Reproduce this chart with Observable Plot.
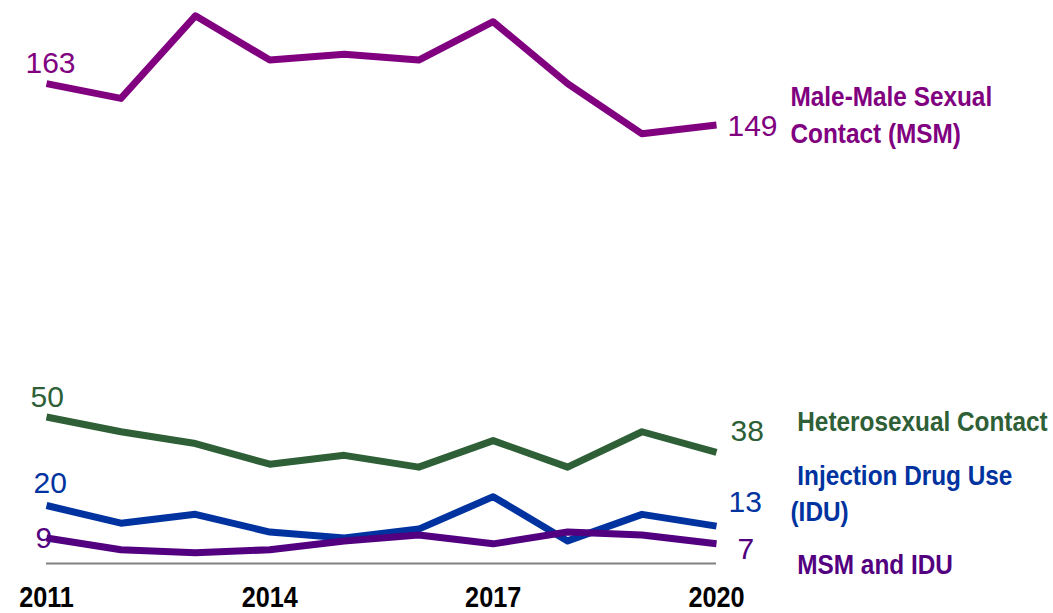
<!DOCTYPE html>
<html><head><meta charset="utf-8">
<script src="https://cdn.jsdelivr.net/npm/d3@7"></script>
<script src="https://cdn.jsdelivr.net/npm/@observablehq/plot@0.6"></script>
<style>body{margin:0;background:#fff;} #chart svg{display:block;}</style>
</head><body><div id="chart"></div>
<script>
// ---- data ----
const years = [2011, 2012, 2013, 2014, 2015, 2016, 2017, 2018, 2019, 2020];
const msm    = [163, 158, 186, 171, 173, 171, 184, 163, 146, 149];
const hetero = [50, 45, 41, 34, 37, 33, 42, 33, 45, 38];
const idu    = [20, 14, 17, 11, 9, 12, 23, 8, 17, 13];
const msmIdu = [9, 5, 4, 5, 8, 10, 7, 11, 10, 7];
const seriesNames = ["Male-Male Sexual\nContact (MSM)", "\u00a0Heterosexual Contact", "\u00a0Injection Drug Use\n(IDU)", "\u00a0MSM and IDU"];
const tickYears = [2011, 2014, 2017, 2020];

// ---- styles / layout (not data) ----
const colors = ["#800080", "#2e5f36", "#0033a0", "#520080"];
const firstOff = [[-21, -20], [-16, -19.5], [-13, -22], [-11, 0]];
const lastOff  = [[11, 1.5], [14, -21], [12, -23.5], [21, 6]];
const nameDy   = [-12, -32.5, -35, 18.5];
const numFont = "Liberation Sans, Arial, sans-serif";
const boldFont = "Liberation Sans, Arial, sans-serif";
const condense = 0.87;

const allSeries = [msm, hetero, idu, msmIdu];
const rows = allSeries.flatMap((vals, i) => vals.map((v, j) => ({series: seriesNames[i], year: years[j], value: v})));

const marks = [
  Plot.ruleY([0], {stroke: "#808080", strokeWidth: 2, dy: -1}),
  Plot.line(rows, {x: "year", y: "value", z: "series", stroke: "series", strokeWidth: 7, strokeLinecap: "butt", strokeLinejoin: "round"}),
  Plot.axisX(tickYears, {tickSize: 0, tickPadding: 22, tickFormat: "d", label: null, fontSize: 29, fontWeight: "bold", fontFamily: boldFont, fill: "#000"})
];
seriesNames.forEach((name, i) => {
  const s = rows.filter(r => r.series === name);
  const first = s[0], last = s[s.length - 1];
  marks.push(Plot.text([first], {x: "year", y: "value", text: d => String(d.value), fill: colors[i], fontSize: 30, fontFamily: numFont, textAnchor: "start", dx: firstOff[i][0], dy: firstOff[i][1]}));
  marks.push(Plot.text([last], {x: "year", y: "value", text: d => String(d.value), fill: colors[i], fontSize: 30, fontFamily: numFont, textAnchor: "start", dx: lastOff[i][0], dy: lastOff[i][1]}));
  marks.push(Plot.text([last], {x: "year", y: "value", text: "series", fill: colors[i], fontSize: 28, fontWeight: "bold", fontFamily: boldFont, textAnchor: "start", lineHeight: 1.29, dx: 74, dy: nameDy[i]}));
});

const chart = Plot.plot({
  width: 1053,
  height: 613,
  marginLeft: 46,
  marginRight: 337,
  marginBottom: 49,
  marginTop: 3.5,
  x: {domain: [2011, 2020], axis: null},
  y: {domain: [0, 190], axis: null},
  color: {domain: seriesNames, range: colors},
  style: {background: "#fff", overflow: "visible"},
  marks
});
// condense the bold (Franklin Gothic Condensed-like) labels horizontally
chart.querySelectorAll('g[font-weight="bold"] text').forEach(t => {
  const tr = t.getAttribute("transform") || "";
  t.setAttribute("transform", tr + ` scale(${condense},1)`);
});
document.getElementById("chart").appendChild(chart);
</script>
</body></html>
